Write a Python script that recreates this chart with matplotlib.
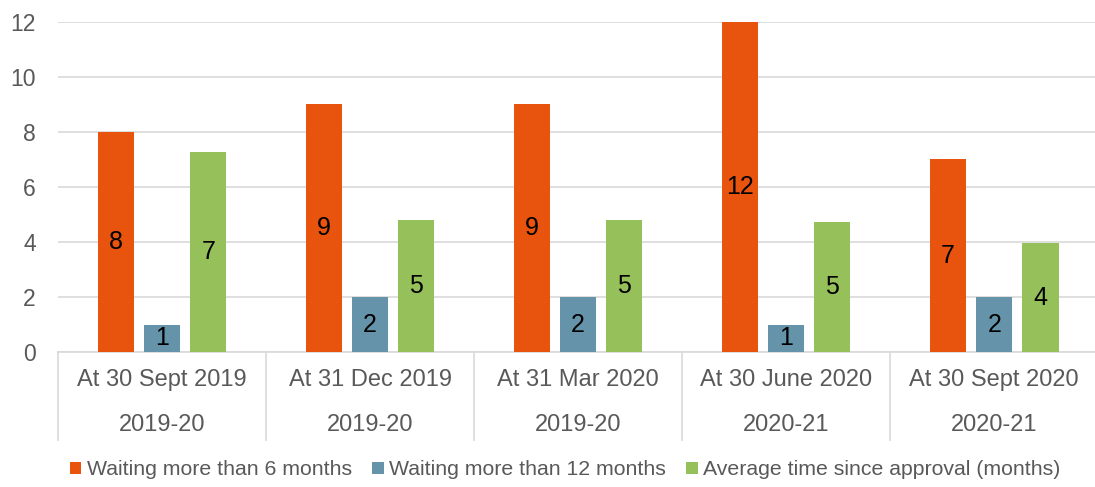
import numpy as np
import matplotlib.pyplot as plt
from matplotlib.transforms import blended_transform_factory

plt.rcParams['font.family'] = ['Liberation Sans', 'DejaVu Sans']

periods = ["At 30 Sept 2019", "At 31 Dec 2019", "At 31 Mar 2020", "At 30 June 2020", "At 30 Sept 2020"]
years = ["2019-20", "2019-20", "2019-20", "2020-21", "2020-21"]
series_names = ["Waiting more than 6 months", "Waiting more than 12 months",
                "Average time since approval (months)"]
over_6 = [8, 9, 9, 12, 7]
over_12 = [1, 2, 2, 1, 2]
avg_time = [7.27, 4.8, 4.8, 4.74, 3.96]
colors = ["#E8540D", "#6593AA", "#96C15A"]
text_grey = "#595959"
grid_grey = "#D9D9D9"

fig = plt.figure(figsize=(10.95, 4.87), dpi=100)
# right edge of the plot area runs just past the picture, as in the source
ax = fig.add_axes([0.053, 0.277, 0.950, 0.678])

x = np.arange(len(periods))
width = 0.174
step = 0.222
for k, (vals, col, name) in enumerate(zip([over_6, over_12, avg_time], colors, series_names)):
    pos = x + (k - 1) * step
    bars = ax.bar(pos, vals, width, color=col, label=name, zorder=3)
    for b, v in zip(bars, vals):
        ax.text(b.get_x() + b.get_width() / 2, v / 2, f"{v:.0f}", ha='center', va='center',
                fontsize=18, color='black', zorder=4)

ax.set_xlim(-0.5, len(periods) - 0.5)
ax.set_ylim(0, 12)
ax.set_yticks(range(0, 13, 2))
ax.tick_params(axis='y', length=0, labelsize=16.5, labelcolor=text_grey, pad=16)
ax.tick_params(axis='x', length=0, labelbottom=False)
ax.grid(axis='y', color=grid_grey, linewidth=1.2, zorder=0)
for s in ['top', 'right', 'left']:
    ax.spines[s].set_visible(False)
ax.spines['bottom'].set_color(grid_grey)
ax.spines['bottom'].set_linewidth(1.2)

trans = blended_transform_factory(ax.transData, ax.transAxes)
for i in range(len(periods)):
    ax.plot([i - 0.5, i - 0.5], [0, -0.267], transform=trans, color=grid_grey,
            linewidth=1.2, clip_on=False)
    ax.text(i, -0.085, periods[i], transform=trans, ha='center', va='center',
            fontsize=17, color=text_grey)
    ax.text(i, -0.221, years[i], transform=trans, ha='center', va='center',
            fontsize=17, color=text_grey)

ax.legend(loc='center', bbox_to_anchor=(0.4875, -0.357), ncol=3, frameon=False,
          fontsize=15.3, labelcolor=text_grey, handlelength=0.55, handleheight=0.55,
          handletextpad=0.25, columnspacing=0.95)

fig.savefig("out.png", dpi=100)
